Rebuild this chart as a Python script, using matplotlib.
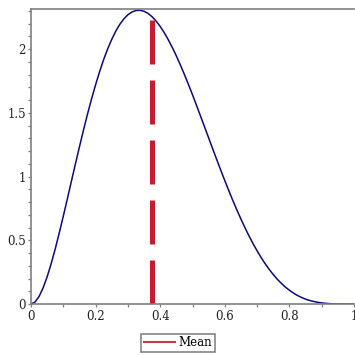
import matplotlib
matplotlib.use("Agg")
import matplotlib.pyplot as plt
from matplotlib.lines import Line2D
from matplotlib.ticker import MultipleLocator, FuncFormatter

# values
x_vals = [0.0, 0.0125, 0.025, 0.0375, 0.05, 0.0625, 0.075, 0.0875, 0.1, 0.1125,
          0.125, 0.1375, 0.15, 0.1625, 0.175, 0.1875, 0.2, 0.2125, 0.225, 0.2375,
          0.25, 0.2625, 0.275, 0.2875, 0.3, 0.3125, 0.325, 0.3375, 0.35, 0.3625,
          0.375, 0.3875, 0.4, 0.4125, 0.425, 0.4375, 0.45, 0.4625, 0.475, 0.4875,
          0.5, 0.5125, 0.525, 0.5375, 0.55, 0.5625, 0.575, 0.5875, 0.6, 0.6125,
          0.625, 0.6375, 0.65, 0.6625, 0.675, 0.6875, 0.7, 0.7125, 0.725, 0.7375,
          0.75, 0.7625, 0.775, 0.7875, 0.8, 0.8125, 0.825, 0.8375, 0.85, 0.8625,
          0.875, 0.8875, 0.9, 0.9125, 0.925, 0.9375, 0.95, 0.9625, 0.975, 0.9875, 1.0]
density = [0.0, 0.0156, 0.059, 0.1267, 0.214, 0.3168, 0.432, 0.5574, 0.689, 0.8245,
           0.962, 1.0986, 1.233, 1.3641, 1.490, 1.6087, 1.720, 1.8235, 1.918, 2.0020,
           2.076, 2.1404, 2.194, 2.2367, 2.269, 2.2908, 2.302, 2.3040, 2.296, 2.2790,
           2.253, 2.2190, 2.177, 2.1285, 2.073, 2.0120, 1.946, 1.8747, 1.800, 1.7215,
           1.641, 1.5577, 1.473, 1.3880, 1.303, 1.2171, 1.133, 1.0493, 0.968, 0.8882,
           0.811, 0.7368, 0.666, 0.5980, 0.534, 0.4733, 0.417, 0.3642, 0.316, 0.2712,
           0.231, 0.1942, 0.162, 0.1328, 0.108, 0.0857, 0.067, 0.0514, 0.038, 0.0279,
           0.020, 0.0132, 0.0085, 0.0051, 0.0028, 0.0014, 0.0006, 0.0002, 0.0, 0.0, 0.0]
mean_x = 0.375
mean_height = 2.253
legend_labels = ["Mean"]

plt.rcParams['font.family'] = ['DejaVu Serif']

fig = plt.figure(figsize=(3.55, 3.55), dpi=100)
ax = fig.add_axes([31/355, 51/355, 323/355, 295/355])

ax.plot(x_vals, density, color='#0a0a80', lw=1.1, solid_joinstyle='round')
ax.plot([mean_x, mean_x], [0, mean_height], color='#c41e2e', lw=3.6,
        linestyle=(0, (8.8, 3.2)), dash_capstyle='butt')

ax.set_xlim(0, 1)
ax.set_ylim(0, 2.314)
ax.xaxis.set_major_locator(MultipleLocator(0.2))
ax.xaxis.set_minor_locator(MultipleLocator(0.1))
ax.yaxis.set_major_locator(MultipleLocator(0.5))
ax.yaxis.set_minor_locator(MultipleLocator(0.1))
ax.xaxis.set_major_formatter(FuncFormatter(lambda v, p: f"{v:g}"))
ax.yaxis.set_major_formatter(FuncFormatter(lambda v, p: f"{v:g}"))

for s in ['left', 'bottom', 'top']:
    ax.spines[s].set_color('#7f7f7f')
    ax.spines[s].set_linewidth(1.2)
ax.spines['right'].set_visible(False)
ax.tick_params(which='both', direction='out', length=2.2, width=0.9, color='#7f7f7f',
               labelsize=8.5, labelcolor='#222222')
ax.tick_params(axis='x', which='major', pad=2)
ax.tick_params(axis='y', which='major', pad=1.5)

handle = Line2D([], [], color='#cc3344', lw=1.5)
leg = fig.legend([handle], legend_labels, loc='center', bbox_to_anchor=(178/355, 1 - 343/355),
                 frameon=True, fancybox=False, fontsize=8.5, handlelength=2.6,
                 handletextpad=0.3, borderpad=0.25, borderaxespad=0)
leg.get_frame().set_edgecolor('#666666')
leg.get_frame().set_linewidth(1.2)

fig.savefig('out.png', dpi=100)
